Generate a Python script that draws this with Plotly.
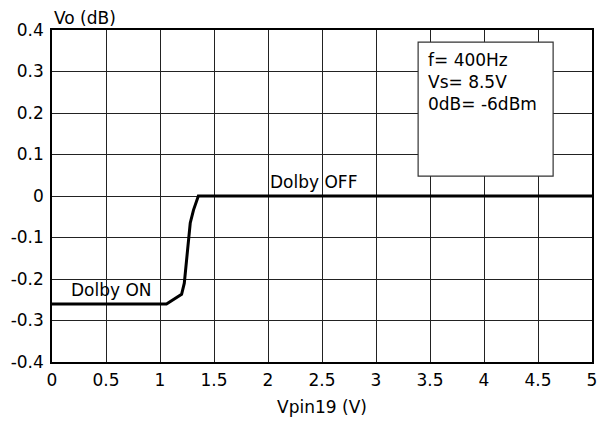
import plotly.graph_objects as go

# Vpin19 (V) vs output level (dB)
vpin = [0, 1.06, 1.20, 1.225, 1.28, 1.31, 1.355, 5]
vo_db = [-0.26, -0.26, -0.237, -0.21, -0.065, -0.034, 0, 0]

x_ticks = [0, 0.5, 1, 1.5, 2, 2.5, 3, 3.5, 4, 4.5, 5]
y_ticks = [0.4, 0.3, 0.2, 0.1, 0, -0.1, -0.2, -0.3, -0.4]
y_labels = ["0.4", "0.3", "0.2", "0.1", "0", "-0.1", "-0.2", "-0.3", "-0.4"]

cond_lines = ["f= 400Hz", "Vs= 8.5V", "0dB= -6dBm"]

font_name = "DejaVu Sans"
fsize = 17

fig = go.Figure()
fig.add_trace(go.Scatter(x=vpin, y=vo_db, mode="lines",
                         line=dict(color="black", width=3), showlegend=False))

# conditions box
fig.add_shape(type="rect", x0=3.39, x1=4.64, y0=0.048, y1=0.371,
              line=dict(color="#333", width=1.2), fillcolor="white", layer="above")
fig.add_annotation(x=3.46, y=0.357, xanchor="left", yanchor="top", align="left",
                   text="<br>".join(cond_lines), showarrow=False,
                   font=dict(size=fsize, color="black", family=font_name))

fig.add_annotation(x=2.0, y=0.004, xanchor="left", yanchor="bottom", text="Dolby OFF",
                   showarrow=False, font=dict(size=fsize, color="black", family=font_name))
fig.add_annotation(x=0.16, y=-0.256, xanchor="left", yanchor="bottom", text="Dolby ON",
                   showarrow=False, font=dict(size=fsize, color="black", family=font_name))

fig.add_annotation(x=0, y=1.0, xref="paper", yref="paper", xanchor="left", yanchor="bottom",
                   yshift=0, text="Vo (dB)", showarrow=False,
                   font=dict(size=fsize, color="black", family=font_name))

fig.update_xaxes(range=[0, 5], tickvals=x_ticks, ticktext=[str(v) for v in x_ticks],
                 showgrid=True, gridcolor="#222", gridwidth=1.2, zeroline=False,
                 showline=True, linecolor="black", linewidth=1.5, mirror=True,
                 ticks="", tickfont=dict(size=fsize, color="black"), automargin=False,
                 ticklabelstandoff=2,
                 title=dict(text="Vpin19 (V)", font=dict(size=fsize, color="black"), standoff=12))
fig.update_yaxes(range=[-0.4, 0.4], tickvals=y_ticks, ticktext=y_labels,
                 showgrid=True, gridcolor="#222", gridwidth=1.2, zeroline=False,
                 showline=True, linecolor="black", linewidth=1.5, mirror=True,
                 ticks="", tickfont=dict(size=fsize, color="black"), automargin=False,
                 ticklabelstandoff=3)

# page body adds an 8px offset, so the figure is shrunk to match
fig.update_layout(width=599, height=413, plot_bgcolor="white", paper_bgcolor="white",
                  margin=dict(l=44, r=15, t=22, b=59),
                  font=dict(family=font_name, size=fsize, color="black"))

fig.write_html("out.html")
